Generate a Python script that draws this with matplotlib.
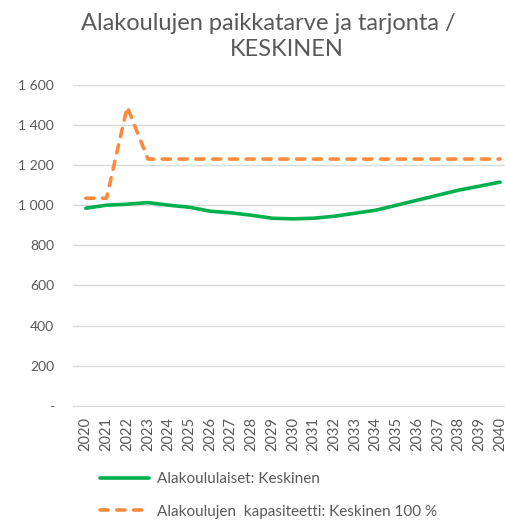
import matplotlib.pyplot as plt
from matplotlib.ticker import FuncFormatter

years = list(range(2020, 2041))

# Alakoululaiset: Keskinen
pupils = [985, 1000, 1005, 1013, 1000, 990, 970, 962, 950, 935, 932,
          935, 945, 960, 975, 1000, 1025, 1050, 1075, 1095, 1115]

# Alakoulujen kapasiteetti: Keskinen 100 %
capacity = [1035, 1035, 1490, 1230, 1230, 1230, 1230, 1230, 1230, 1230, 1230,
            1230, 1230, 1230, 1230, 1230, 1230, 1230, 1230, 1230, 1230]

yticks = [0, 200, 400, 600, 800, 1000, 1200, 1400, 1600]

plt.rcParams['font.family'] = ['Lato', 'DejaVu Sans']
text_grey = '#595959'

fig = plt.figure(figsize=(5.06, 5.27), dpi=100)
ax = fig.add_axes([0.145, 0.23, 0.87, 0.609])

ax.plot(years, pupils, color='#00b04f', lw=2.6, solid_capstyle='round',
        label='Alakoululaiset: Keskinen')
ax.plot(years, capacity, color='#fd8b3e', lw=2.6, dashes=(2.25, 2.4),
        dash_capstyle='round', label='Alakoulujen  kapasiteetti: Keskinen 100 %')

ax.set_ylim(0, 1600)
ax.set_xlim(2019.4, 2040.65)
ax.set_yticks(yticks)
ax.yaxis.set_major_formatter(FuncFormatter(
    lambda v, p: '-' if v == 0 else f'{int(v):,}'.replace(',', ' ')))
ax.set_xticks(years)
ax.set_xticklabels([str(y) for y in years], rotation=90)
ax.grid(axis='y', color='#d9d9d9', lw=1)
ax.set_axisbelow(True)
for s in ['top', 'right', 'left']:
    ax.spines[s].set_visible(False)
ax.spines['bottom'].set_color('#d9d9d9')
ax.tick_params(length=0, labelsize=10.5, colors=text_grey, pad=8)
ax.tick_params(axis='y', labelsize=10, pad=14)

# two-line title, second line sits a bit right of the first
fig.text(0.53, 0.955, 'Alakoulujen paikkatarve ja tarjonta /', ha='center',
         va='center', fontsize=17, color=text_grey)
fig.text(0.567, 0.907, 'KESKINEN', ha='center', va='center',
         fontsize=17, color=text_grey)

fig.legend(loc='lower left', bbox_to_anchor=(0.17, -0.01), frameon=False,
           fontsize=11, labelcolor=text_grey, handlelength=3.2, labelspacing=1.2,
           handletextpad=0.55)

fig.savefig('out.png', dpi=100)
